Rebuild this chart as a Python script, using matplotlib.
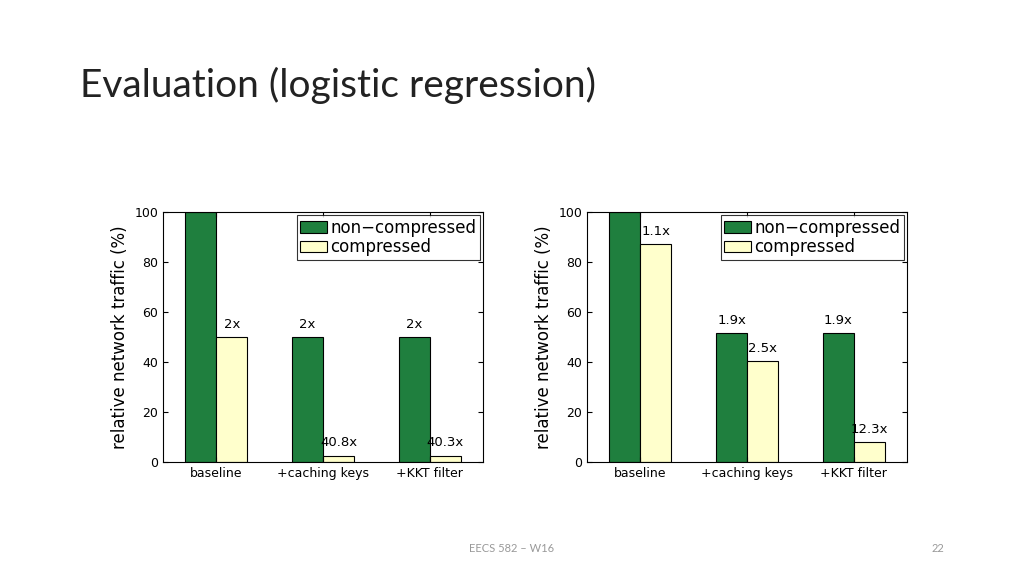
import matplotlib
matplotlib.use("Agg")
import matplotlib.pyplot as plt
import numpy as np

categories = ["baseline", "+caching keys", "+KKT filter"]
left_noncomp = [100, 50, 50]
left_comp = [50, 2.5, 2.5]
left_green_labels = ["", "2x", "2x"]
left_yellow_labels = ["2x", "40.8x", "40.3x"]
right_noncomp = [100, 51.5, 51.5]
right_comp = [87, 40.5, 8]
right_green_labels = ["", "1.9x", "1.9x"]
right_yellow_labels = ["1.1x", "2.5x", "12.3x"]
yticks = [0, 20, 40, 60, 80, 100]

GREEN = "#1f7f3e"
YELLOW = "#ffffcc"
W, H = 1024, 576
fig = plt.figure(figsize=(W/100, H/100), dpi=100)
fig.text(80/W, 1-85/H, "Evaluation (logistic regression)", fontsize=28, family="Lato",
         va="center", ha="left", color="#222222")
fig.text(512/W, 1-548/H, "EECS 582 – W16", fontsize=8, color="#999999", ha="center", va="center", family="Lato")
fig.text(938/W, 1-548/H, "22", fontsize=8, color="#999999", ha="center", va="center", family="Lato")

def draw(x0, green, yellow, gl, yl):
    ax = fig.add_axes([x0/W, 1-462/H, 320/W, 250/H])
    x = np.arange(len(categories))
    w = 0.29
    ax.bar(x - w/2, green, w, color=GREEN, edgecolor="black", linewidth=0.8, label="non\u2212compressed")
    ax.bar(x + w/2, yellow, w, color=YELLOW, edgecolor="black", linewidth=0.8, label="compressed")
    for i in range(len(categories)):
        if gl[i]:
            ax.text(x[i] - w/2, green[i] + 2.5, gl[i], ha="center", va="bottom", fontsize=9.5)
        if yl[i]:
            ax.text(x[i] + w/2, yellow[i] + 2.5, yl[i], ha="center", va="bottom", fontsize=9.5)
    ax.set_xlim(-0.5, 2.5)
    ax.set_ylim(0, 100)
    ax.set_yticks(yticks)
    ax.set_xticks(x)
    ax.set_xticklabels(categories, fontsize=9)
    ax.tick_params(labelsize=9, direction="in", top=True, right=True)
    ax.set_ylabel("relative network traffic (%)", fontsize=12)
    ax.legend(loc="upper right", fontsize=12, frameon=True, fancybox=False, edgecolor="black",
              borderpad=0.2, handlelength=1.6, handletextpad=0.2, labelspacing=0.1,
              borderaxespad=0.2).get_frame().set_linewidth(0.8)
    for s in ax.spines.values():
        s.set_linewidth(0.8)

draw(163, left_noncomp, left_comp, left_green_labels, left_yellow_labels)
draw(587, right_noncomp, right_comp, right_green_labels, right_yellow_labels)
fig.savefig("out.png", dpi=100)
